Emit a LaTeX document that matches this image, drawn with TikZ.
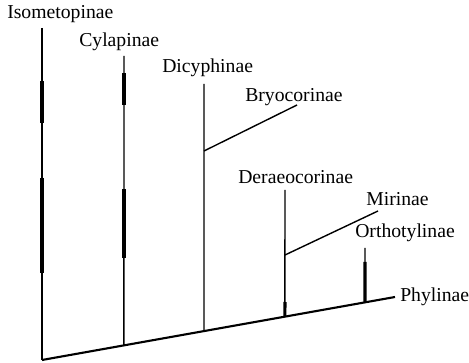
\documentclass[tikz,border=0pt]{standalone}
\usepackage{fontspec}
\setmainfont{Liberation Serif}
\usetikzlibrary{calc}
\begin{document}
\begin{tikzpicture}[every node/.style={font=\fontsize{14}{16}\selectfont, anchor=base west, inner sep=0pt},
		thin/.style={line width=1pt}, base/.style={line width=1.5pt}, thick/.style={line width=2.2pt}]
		\useasboundingbox (0,0) rectangle (11.725,9.075);
		\node (iso) at (0.175,8.6) {Isometopinae};
		\node (cyl) at (1.975,7.9) {Cylapinae};
		\node (dic) at (4.05,7.25) {Dicyphinae};
		\node (bry) at (6.125,6.525) {Bryocorinae};
		\node (der) at (5.95,4.475) {Deraeocorinae};
		\node (mir) at (9.15,3.925) {Mirinae};
		\node (ort) at (8.875,3.125) {Orthotylinae};
		\node (phy) at (10.0,1.525) {Phylinae};
		% backbone
		\coordinate (root) at (1.05,0.075);
		\coordinate (phyend) at (9.875,1.65);
		\coordinate (cylj) at ($(root)!0.232!(phyend)$);
		\coordinate (dicj) at ($(root)!0.459!(phyend)$);
		\coordinate (derj) at ($(root)!0.688!(phyend)$);
		\coordinate (ortj) at ($(root)!0.915!(phyend)$);
		\draw[base] (root) -- (phyend);
		% tips
		\coordinate (isotip) at (1.05,8.375);
		\coordinate (cyltip) at (3.1,7.675);
		\coordinate (dictip) at (5.1,6.975);
		\coordinate (dertip) at (7.125,4.325);
		\coordinate (orttip) at (9.125,2.875);
		\coordinate (brytip) at (7.425,6.45);
		\coordinate (mirtip) at (9.45,3.8);
		\coordinate (dicb) at (5.1,5.3);
		\coordinate (derb) at (7.125,2.7);
		\draw[thin] (isotip) -- (root); \draw[thin] (cyltip) -- (cylj); \draw[thin] (dictip) -- (dicj);
		\draw[thin] (dertip) -- (derj); \draw[thin] (orttip) -- (ortj);
		\draw[thin] (dicb) -- (brytip); \draw[thin] (derb) -- (mirtip);
		% thick segments
		\draw[thick] (1.05,7.05) -- (1.05,6.0); \draw[thick] (1.05,4.625) -- (1.05,2.25);
		\draw[thick] (3.1,7.25) -- (3.1,6.45); \draw[thick] (3.1,4.35) -- (3.1,2.625);
		\draw[thick] (7.125,1.525) -- (derj); \draw[thick] (9.125,2.525) -- (ortj);
	\end{tikzpicture}
\end{document}
